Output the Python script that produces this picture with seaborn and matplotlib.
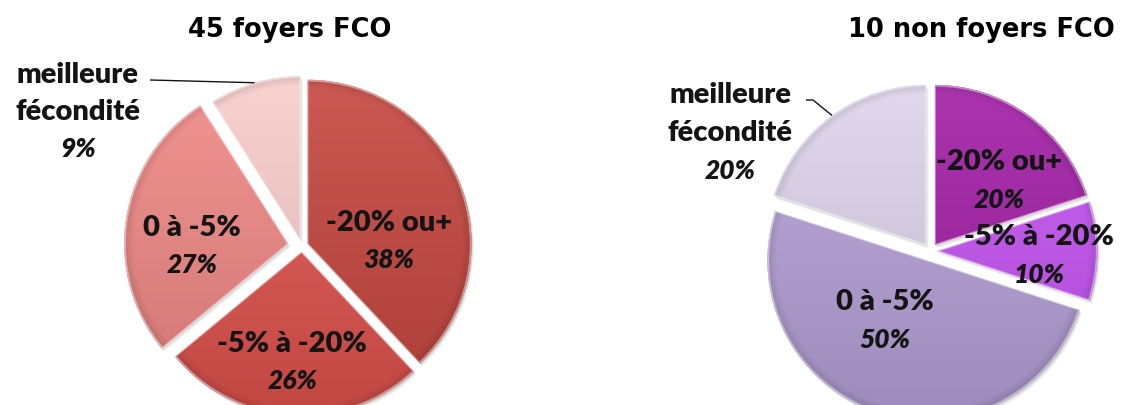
import numpy as np
import matplotlib
matplotlib.use("Agg")
import matplotlib.pyplot as plt
import matplotlib.colors as mcolors
from matplotlib.patches import Wedge
import seaborn as sns

# ---- data -----------------------------------------------------------------
categories = ["-20% ou+", "-5% à -20%", "0 à -5%", "meilleure fécondité"]
values_fco = [38, 26, 27, 9]
values_non_fco = [20, 10, 50, 20]
title_fco = "45 foyers FCO"
title_non_fco = "10 non foyers FCO"

colors_fco = ["#c6463f", "#e0534e", "#f08886", "#f9cccc"]
colors_non_fco = ["#a21ea6", "#c653f3", "#b6a1d8", "#ded3eb"]

# ---- style ----------------------------------------------------------------
sns.set_theme(style="white")
plt.rcParams["font.family"] = ["Lato", "DejaVu Sans"]
TEXT = "#141414"
NAME_SIZE = 21
PCT_SIZE = 19

W, H = 1121, 405
fig = plt.figure(figsize=(W / 100, H / 100), dpi=100)
ax = fig.add_axes([0, 0, 1, 1])
ax.axis("off")


def img_y(y):
    """Convert a top-down pixel row into the axes' upward y coordinate."""
    return H - y


def shade(wedge, base, cx, cy, r):
    """Fill a wedge with a top-light / bottom-dark gradient and a darker rim."""
    rgb = np.array(mcolors.to_rgb(base))
    light = rgb + (1 - rgb) * 0.10
    dark = rgb * 0.87
    wx, wy = wedge.center
    x0, x1 = wx - r - 2, wx + r + 2
    y0, y1 = wy - r - 2, wy + r + 2
    xs = np.linspace(x0, x1, int(x1 - x0))
    ys = np.linspace(y0, y1, int(y1 - y0))
    X, Y = np.meshgrid(xs, ys)
    t = np.clip((Y - (cy - r)) / (2 * r), 0, 1)[..., None]
    col = dark * (1 - t) + light * t
    dist = np.hypot(X - wx, Y - wy) / r
    rim = np.clip((dist - 0.94) / 0.06, 0, 1)[..., None]
    col = col * (1 - 0.12 * rim)
    im = ax.imshow(np.clip(col, 0, 1), extent=[x0, x1, y0, y1], origin="lower",
                   interpolation="bilinear", zorder=2)
    im.set_clip_path(wedge)
    # soft shadow below/right
    for k, a in zip(range(1, 5), [0.10, 0.08, 0.06, 0.04]):
        sh = Wedge((wx + 0.6 * k, wy - 0.9 * k), r, wedge.theta1, wedge.theta2,
                   facecolor="#303030", edgecolor="none", alpha=a, zorder=1)
        ax.add_patch(sh)
    # light bevel outline
    ax.add_patch(Wedge((wx, wy), r - 0.8, wedge.theta1, wedge.theta2,
                       facecolor="none", edgecolor=(1, 1, 1, 0.45), lw=1.3, zorder=3))


def draw_pie(values, colors, center, r, explode, title, title_xy,
             label_pos, pct_gap, lead):
    cx, cy = center
    # matplotlib offsets exploded wedges by the explode value in data units
    wedges, _ = ax.pie(values, colors=colors, startangle=90, counterclock=False,
                       explode=explode, center=(cx, cy), radius=r,
                       wedgeprops=dict(linewidth=0, zorder=1.5))
    for w, c in zip(wedges, colors):
        shade(w, c, cx, cy, r)

    for i, (cat, v) in enumerate(zip(categories, values)):
        dx, dy = label_pos[i]
        lx, ly = cx + dx * r, cy + dy * r
        if i == 3:
            lines = cat.split(" ")
            n = len(lines) + 1
            for j, ln in enumerate(lines):
                ax.text(lx, ly + (n - 1) / 2 * pct_gap - j * pct_gap, ln,
                        ha="center", va="center", fontsize=NAME_SIZE, fontweight="heavy",
                        color=TEXT, zorder=5)
            ax.text(lx, ly - (n - 1) / 2 * pct_gap, f"{v}%", ha="center", va="center",
                    fontsize=PCT_SIZE, fontweight="heavy", style="italic", color=TEXT,
                    zorder=5)
        else:
            ax.text(lx, ly + pct_gap / 2, cat, ha="center", va="center",
                    fontsize=NAME_SIZE, fontweight="heavy", color=TEXT, zorder=5)
            ax.text(lx, ly - pct_gap / 2, f"{v}%", ha="center", va="center",
                    fontsize=PCT_SIZE, fontweight="heavy", style="italic", color=TEXT,
                    zorder=5)

    # leader from the "meilleure fécondité" label to its wedge
    w = wedges[3]
    mid = np.deg2rad((w.theta1 + w.theta2) / 2)
    ex, ey = w.center[0] + r * np.cos(mid), w.center[1] + r * np.sin(mid)
    sx, sy, run = lead
    ax.plot([sx, sx + run, ex], [sy, sy, ey], color=TEXT, lw=1.0, zorder=5,
            solid_capstyle="butt")

    ax.text(title_xy[0], title_xy[1], title, ha="center", va="center", fontsize=18.5,
            fontweight="bold", family="DejaVu Sans", color="#000000", zorder=5)


draw_pie(values_fco, colors_fco, center=(302, img_y(246)), r=164,
         explode=[6, 6, 14, 6], title=title_fco,
         title_xy=(290, img_y(30)),
         label_pos=[(0.53, 0.03), (-0.06, -0.71), (-0.67, -0.006), (-1.366, 0.82)],
         pct_gap=37, lead=(150, img_y(80), 0))

draw_pie(values_non_fco, colors_non_fco, center=(930.5, img_y(251)), r=160,
         explode=[7.5, 7, 10, 7.5], title=title_non_fco,
         title_xy=(981, img_y(30)),
         label_pos=[(0.43, 0.44), (0.68, -0.03), (-0.285, -0.44), (-1.253, 0.74)],
         pct_gap=38, lead=(806, img_y(100), 7))

ax.set_xlim(0, W)
ax.set_ylim(0, H)
ax.set_aspect("equal")
ax.set_position([0, 0, 1, 1])

fig.savefig("out.png", dpi=100, facecolor="white")
